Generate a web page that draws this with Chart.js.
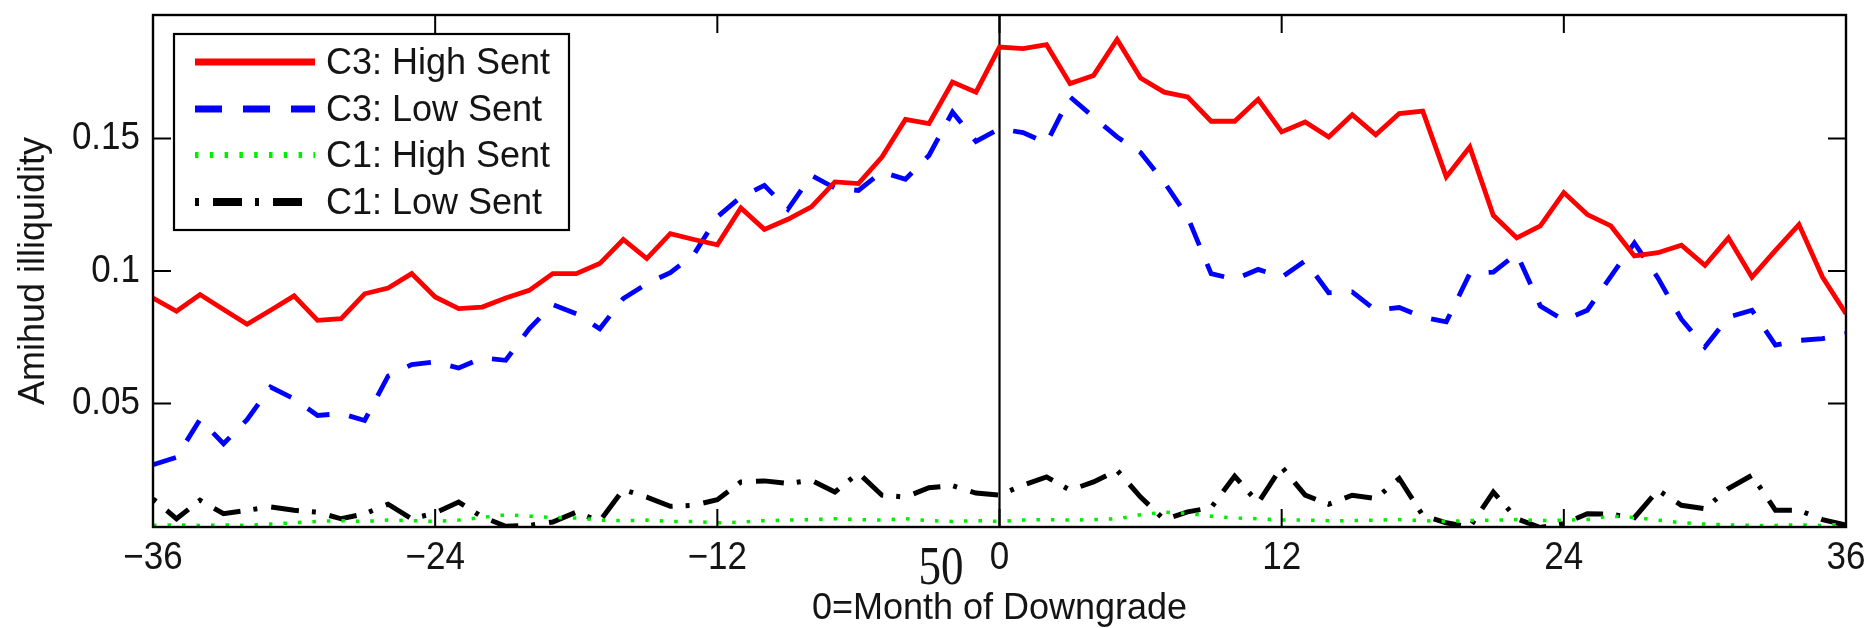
<!DOCTYPE html>
<html><head><meta charset="utf-8">
<script src="https://cdn.jsdelivr.net/npm/chart.js@4/dist/chart.umd.min.js"></script>
<style>html,body{margin:0;padding:0;background:#fff}#wrap{width:1870px;height:628px;position:relative}</style>
</head><body><div id="wrap"><canvas id="c"></canvas></div>
<script>
const months = [-36,-35,-34,-33,-32,-31,-30,-29,-28,-27,-26,-25,-24,-23,-22,-21,-20,-19,-18,-17,-16,-15,-14,-13,-12,-11,-10,-9,-8,-7,-6,-5,-4,-3,-2,-1,0,1,2,3,4,5,6,7,8,9,10,11,12,13,14,15,16,17,18,19,20,21,22,23,24,25,26,27,28,29,30,31,32,33,34,35,36];
const c3High = [0.0898,0.0848,0.0911,0.0855,0.0799,0.0852,0.0906,0.0814,0.0820,0.0914,0.0936,0.0990,0.0902,0.0858,0.0864,0.0898,0.0927,0.0990,0.0990,0.1028,0.1119,0.1047,0.1141,0.1119,0.1099,0.1238,0.1157,0.1195,0.1242,0.1336,0.1330,0.1430,0.1572,0.1556,0.1713,0.1675,0.1845,0.1839,0.1854,0.1707,0.1738,0.1874,0.1728,0.1675,0.1657,0.1565,0.1565,0.1648,0.1525,0.1562,0.1506,0.1590,0.1514,0.1594,0.1603,0.1355,0.1468,0.1210,0.1125,0.1170,0.1296,0.1213,0.1170,0.1057,0.1069,0.1097,0.1021,0.1125,0.0977,0.1078,0.1175,0.0977,0.0839];
const c3Low = [0.0269,0.0297,0.0440,0.0348,0.0439,0.0562,0.0518,0.0455,0.0462,0.0436,0.0604,0.0647,0.0657,0.0634,0.0672,0.0663,0.0782,0.0873,0.0839,0.0782,0.0896,0.0952,0.0994,0.1062,0.1204,0.1279,0.1323,0.1233,0.1361,0.1313,0.1304,0.1374,0.1346,0.1436,0.1600,0.1489,0.1537,0.1522,0.1483,0.1657,0.1581,0.1506,0.1447,0.1336,0.1204,0.0990,0.0969,0.1006,0.0977,0.1038,0.0918,0.0921,0.0852,0.0862,0.0826,0.0808,0.0990,0.0996,0.1065,0.0868,0.0814,0.0852,0.0980,0.1106,0.0974,0.0818,0.0713,0.0826,0.0852,0.0720,0.0738,0.0745,0.0764];
const c1High = [0.0040,0.0042,0.0040,0.0042,0.0040,0.0045,0.0050,0.0055,0.0058,0.0055,0.0060,0.0058,0.0055,0.0060,0.0070,0.0080,0.0075,0.0070,0.0068,0.0060,0.0058,0.0060,0.0055,0.0055,0.0050,0.0052,0.0058,0.0060,0.0062,0.0065,0.0062,0.0060,0.0065,0.0058,0.0055,0.0058,0.0055,0.0060,0.0062,0.0060,0.0062,0.0065,0.0080,0.0090,0.0085,0.0075,0.0068,0.0065,0.0060,0.0060,0.0058,0.0058,0.0060,0.0062,0.0058,0.0055,0.0058,0.0060,0.0062,0.0058,0.0060,0.0062,0.0075,0.0070,0.0060,0.0050,0.0045,0.0042,0.0040,0.0040,0.0042,0.0040,0.0045];
const c1Low = [0.0140,0.0065,0.0135,0.0084,0.0097,0.0110,0.0097,0.0090,0.0065,0.0084,0.0120,0.0065,0.0087,0.0128,0.0072,0.0037,0.0040,0.0053,0.0090,0.0056,0.0175,0.0147,0.0112,0.0116,0.0137,0.0204,0.0208,0.0198,0.0210,0.0166,0.0238,0.0154,0.0147,0.0182,0.0190,0.0162,0.0154,0.0192,0.0223,0.0173,0.0204,0.0248,0.0147,0.0062,0.0091,0.0107,0.0226,0.0125,0.0261,0.0154,0.0120,0.0154,0.0141,0.0217,0.0078,0.0050,0.0034,0.0166,0.0065,0.0032,0.0047,0.0084,0.0082,0.0069,0.0173,0.0116,0.0103,0.0179,0.0229,0.0097,0.0097,0.0062,0.0041];
const seriesLabels = ['C3: High Sent','C3: Low Sent','C1: High Sent','C1: Low Sent'];
const xTicks = [-36,-24,-12,0,12,24,36];
const yTicks = [0.05,0.1,0.15];
const yTickLabels = ['0.05','0.1','0.15'];
const xTitle = '0=Month of Downgrade';
const yTitle = 'Amihud illiquidity';
const pageNumber = '50';

const FONT = "'Liberation Sans', Arial, Helvetica, sans-serif";
const INK = '#141414';
const TICK_PX = 35;
const pts = arr => months.map((m, i) => ({x: m, y: arr[i]}));

// tick numerals and the page number are drawn a little taller than wide, as in the reference
const canvas = document.getElementById('c');
const ctx2d = canvas.getContext('2d');
const rawFillText = ctx2d.fillText.bind(ctx2d);
ctx2d.fillText = function (t, x, y, mw) {
  let k = 1;
  if (this.font.indexOf(TICK_PX + 'px') >= 0) k = 1.1;
  else if (this.font.indexOf('Serif') >= 0) k = 1.2;
  this.save();
  this.translate(x, y);
  this.scale(1, k);
  if (mw === undefined) rawFillText(t, 0, 0); else rawFillText(t, 0, 0, mw);
  this.restore();
};

const frame = {
  id: 'frame',
  beforeDatasetsDraw(chart) {
    const {ctx, chartArea: a, scales: {x}} = chart;
    const px = x.getPixelForValue(0);
    ctx.save();
    ctx.strokeStyle = '#000';
    ctx.lineWidth = 2.2;
    ctx.beginPath(); ctx.moveTo(px, a.top); ctx.lineTo(px, a.bottom); ctx.stroke();
    ctx.restore();
  },
  afterDatasetsDraw(chart) {
    const {ctx, chartArea: a, scales: {x, y}} = chart;
    ctx.save();
    ctx.strokeStyle = '#000';
    ctx.lineWidth = 2.4;
    ctx.strokeRect(a.left, a.top, a.right - a.left, a.bottom - a.top);
    const tl = 18;
    ctx.lineWidth = 2;
    ctx.beginPath();
    xTicks.forEach(v => {
      const p = x.getPixelForValue(v);
      ctx.moveTo(p, a.bottom); ctx.lineTo(p, a.bottom - tl);
      ctx.moveTo(p, a.top); ctx.lineTo(p, a.top + tl);
    });
    yTicks.forEach(v => {
      const p = y.getPixelForValue(v);
      ctx.moveTo(a.left, p); ctx.lineTo(a.left + tl, p);
      ctx.moveTo(a.right, p); ctx.lineTo(a.right - tl, p);
    });
    ctx.stroke();

    const L = {x: 174, y: 34, w: 395, h: 196};
    ctx.fillStyle = '#fff';
    ctx.fillRect(L.x, L.y, L.w, L.h);
    ctx.lineWidth = 2.2;
    ctx.strokeRect(L.x, L.y, L.w, L.h);
    const rows = [62, 109, 155, 202];
    chart.data.datasets.forEach((ds, i) => {
      const yy = rows[i];
      ctx.save();
      ctx.strokeStyle = ds.borderColor;
      ctx.lineWidth = ds.legendWidth;
      ctx.setLineDash(ds.legendDash || []);
      ctx.lineCap = 'butt';
      ctx.beginPath(); ctx.moveTo(195, yy); ctx.lineTo(315, yy); ctx.stroke();
      ctx.restore();
      ctx.fillStyle = INK;
      ctx.font = '36px ' + FONT;
      ctx.textAlign = 'left';
      ctx.textBaseline = 'middle';
      ctx.fillText(ds.label, 326, yy + 2);
    });
    ctx.restore();
  },
  afterDraw(chart) {
    const {ctx} = chart;
    ctx.save();
    ctx.fillStyle = INK;
    ctx.font = "45px 'Liberation Serif', 'Times New Roman', serif";
    ctx.textAlign = 'center';
    ctx.textBaseline = 'alphabetic';
    ctx.fillText(pageNumber, 941, 584);
    ctx.restore();
  }
};

new Chart(canvas, {
  type: 'line',
  data: {
    datasets: [
      {label: seriesLabels[0], data: pts(c3High), borderColor: '#ff0000', borderWidth: 4.8, legendWidth: 7, legendDash: []},
      {label: seriesLabels[1], data: pts(c3Low), borderColor: '#0000ff', borderWidth: 4.8, borderDash: [24, 20], legendWidth: 7, legendDash: [27, 21]},
      {label: seriesLabels[2], data: pts(c1High), borderColor: '#00ee00', borderWidth: 3.5, borderDash: [3.5, 11], legendWidth: 6, legendDash: [3.5, 11.3]},
      {label: seriesLabels[3], data: pts(c1Low), borderColor: '#000000', borderWidth: 5, borderDash: [4, 14, 28, 13], legendWidth: 8, legendDash: [4, 14, 29, 13]}
    ].map(d => Object.assign(d, {pointRadius: 0, tension: 0, fill: false, clip: 0, backgroundColor: d.borderColor}))
  },
  options: {
    responsive: true,
    maintainAspectRatio: false,
    animation: false,
    devicePixelRatio: 1,
    layout: {padding: {top: 15, right: 24, left: 0, bottom: 0}},
    plugins: {legend: {display: false}, tooltip: {enabled: false}},
    scales: {
      x: {
        type: 'linear', min: -36, max: 36,
        afterBuildTicks: s => { s.ticks = xTicks.map(v => ({value: v})); },
        afterFit: s => { s.height = 101; s.paddingLeft = 0; s.paddingRight = 0; },
        grid: {display: false, drawTicks: false},
        border: {display: false},
        ticks: {autoSkip: false, maxRotation: 0, padding: 14, color: INK, font: {family: FONT, size: TICK_PX, lineHeight: 1},
          callback: v => String(v).replace('-', '\u2212')},
        title: {display: true, text: xTitle, color: INK, font: {family: FONT, size: 36, lineHeight: 1}, padding: {top: 0, bottom: 1}}
      },
      y: {
        type: 'linear', min: 0.0034, max: 0.1966,
        afterBuildTicks: s => { s.ticks = yTicks.map(v => ({value: v})); },
        afterFit: s => { s.width = 153; s.paddingTop = 0; s.paddingBottom = 0; },
        grid: {display: false, drawTicks: false},
        border: {display: false},
        ticks: {autoSkip: false, padding: 13, color: INK, font: {family: FONT, size: TICK_PX, lineHeight: 1},
          callback: v => { const i = yTicks.indexOf(v); return i >= 0 ? yTickLabels[i] : ''; }},
        title: {display: true, text: yTitle, color: INK, font: {family: FONT, size: 36, lineHeight: 1}, padding: {top: 16, bottom: 0}}
      }
    }
  },
  plugins: [frame]
});
</script></body></html>
